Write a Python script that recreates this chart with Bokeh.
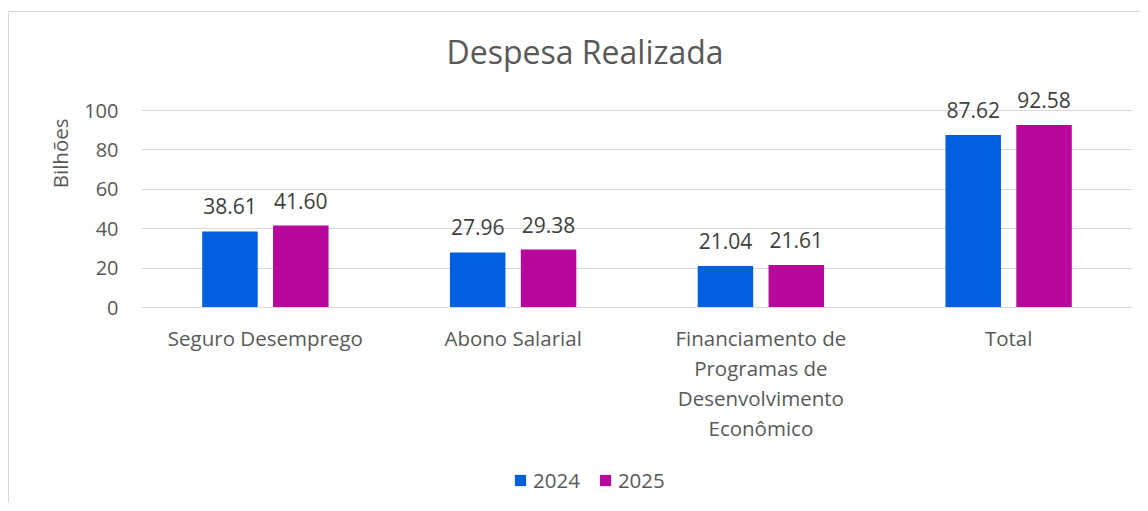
from bokeh.plotting import figure
from bokeh.models import (FactorRange, Range1d, FixedTicker, Legend, LegendItem,
                          Title, ColumnDataSource)
from bokeh.transform import dodge
from bokeh.core.properties import value
from bokeh.embed import file_html
from bokeh.resources import INLINE

# ---- data ----
categories = ["Seguro Desemprego", "Abono Salarial",
              "Financiamento de\nProgramas de\nDesenvolvimento\nEconômico", "Total"]
series_2024 = [38.61, 27.96, 21.04, 87.62]
series_2025 = [41.60, 29.38, 21.61, 92.58]
series_names = ["2024", "2025"]
y_ticks = [0, 20, 40, 60, 80, 100]
title_text = "Despesa Realizada"
y_label = "Bilhões"

FONT = "Open Sans"
GRAY = "#595959"
DARK = "#404040"
C2024 = "#0060DF"
C2025 = "#B8079B"

src = ColumnDataSource(dict(
    cat=categories,
    v24=series_2024,
    v25=series_2025,
    l24=[f"{v:.2f}" for v in series_2024],
    l25=[f"{v:.2f}" for v in series_2025],
))

# the plotting frame extends below zero so that the category labels and the
# legend (drawn inside the frame) are not clipped; the x axis sits at y = 0
p = figure(frame_width=991, frame_height=427,
           x_range=FactorRange(*categories, range_padding=0),
           y_range=Range1d(-99.49, 117.26),
           output_backend="svg", toolbar_location=None,
           min_border_left=132, min_border_right=8,
           min_border_top=64, min_border_bottom=0)
p.styles = {"border-top": "1px solid #D9D9D9", "border-left": "1px solid #D9D9D9",
            "margin-top": "11px", "margin-left": "8px"}
p.outline_line_color = None
p.background_fill_color = "white"
p.border_fill_color = "white"

r24 = p.vbar(x=dodge("cat", -0.143, range=p.x_range), top="v24", bottom=0,
             width=0.224, source=src, fill_color=C2024, line_color=None)
r25 = p.vbar(x=dodge("cat", 0.143, range=p.x_range), top="v25", bottom=0,
             width=0.224, source=src, fill_color=C2025, line_color=None)

for col, off in (("24", -0.143), ("25", 0.143)):
    p.text(x=dodge("cat", off, range=p.x_range), y="v" + col, text="l" + col,
           source=src, text_align="center", text_baseline="alphabetic",
           y_offset=-25, text_font=value(FONT), text_font_size="21px",
           text_color=DARK)

# axes
p.yaxis.ticker = FixedTicker(ticks=y_ticks)
p.yaxis.axis_line_color = None
p.yaxis.major_tick_line_color = None
p.yaxis.minor_tick_line_color = None
p.yaxis.major_label_standoff = 17
p.yaxis.major_label_text_font = FONT
p.yaxis.major_label_text_font_size = "20px"
p.yaxis.major_label_text_color = GRAY

p.xaxis.fixed_location = 0
p.xaxis.axis_line_color = "#D9D9D9"
p.xaxis.major_tick_line_color = None
p.xaxis.minor_tick_line_color = None
p.xaxis.major_label_standoff = 10
p.xaxis.major_label_text_font = FONT
p.xaxis.major_label_text_font_size = "20.5px"
p.xaxis.major_label_text_color = GRAY
p.xaxis.major_label_text_line_height = 1.08
p.xaxis.major_label_orientation = "horizontal"

p.xgrid.grid_line_color = None
p.ygrid.ticker = FixedTicker(ticks=y_ticks)
p.ygrid.grid_line_color = "#D9D9D9"
p.ygrid.grid_line_width = 1

# chart title
p.add_layout(Title(text=title_text, align="left", offset=305, standoff=8,
                   text_font=FONT, text_font_size="32px", text_font_style="normal",
                   text_color=GRAY), "above")

# y-axis title (placed near the top like the original)
p.add_layout(Title(text=y_label, align="right", offset=42, standoff=16,
                   text_font=FONT, text_font_size="20.5px", text_font_style="normal",
                   text_color=GRAY), "left")

legend = Legend(items=[LegendItem(label=series_names[0], renderers=[r24]),
                       LegendItem(label=series_names[1], renderers=[r25])],
                orientation="horizontal", location=(372, 9),
                glyph_width=14, glyph_height=14, label_standoff=6, spacing=18,
                padding=0, margin=0, border_line_color=None,
                background_fill_alpha=0,
                label_text_font=FONT, label_text_font_size="20.5px",
                label_text_color=GRAY)
p.add_layout(legend, "center")

open("out.html", "w").write(file_html(p, INLINE))
